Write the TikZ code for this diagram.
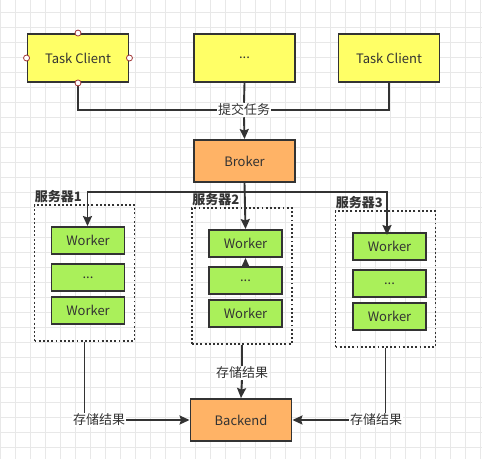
\documentclass[tikz,border=0pt]{standalone}
\usepackage{fontspec}
\setmainfont{Noto Sans CJK SC}
\usetikzlibrary{arrows.meta}
\definecolor{ink}{HTML}{333333}
\definecolor{clientfill}{HTML}{FFFF66}
\definecolor{brokerfill}{HTML}{FFB366}
\definecolor{workerfill}{HTML}{AAF05A}
\definecolor{gridcol}{HTML}{E8E8E8}
\definecolor{portcol}{HTML}{A33A3A}
\begin{document}
\begin{tikzpicture}[x=1pt, y=-1pt,
  box/.style={draw=ink, line width=1.9pt, inner sep=0pt, text=ink, font=\fontsize{13}{15}\selectfont},
  client/.style={box, fill=clientfill, minimum width=101pt, minimum height=48pt},
  brokerbox/.style={box, fill=brokerfill, minimum width=101pt, minimum height=42pt},
  workerbox/.style={box, fill=workerfill, minimum width=73pt, minimum height=27pt},
  server/.style={draw=ink, line width=1.9pt, dash pattern=on 1.9pt off 2.3pt, inner sep=0pt, minimum width=100pt, minimum height=136pt},
  srvlabel/.style={anchor=south west, inner sep=1pt, text=ink, font=\bfseries\fontsize{13}{15}\selectfont},
  lbl/.style={fill=white, inner sep=1pt, text=ink, font=\fontsize{13}{15}\selectfont},
  port/.style={circle, draw=portcol, fill=white, line width=0.8pt, minimum size=6pt, inner sep=0pt},
  line/.style={draw=ink, line width=1.9pt},
  arrow/.style={line, -{Stealth[length=10pt, width=9pt, inset=1.5pt]}}]
\useasboundingbox (0,0) rectangle (482,459);
\fill[white] (0,0) rectangle (482,459);
% background grid
\foreach \gx in {0,15,...,480} \draw[gridcol, line width=0.6pt] (\gx,0) -- (\gx,459);
\foreach \gy in {12,27,...,457} \draw[gridcol, line width=0.6pt] (0,\gy) -- (482,\gy);
% clients
\node[client] (tc1) at (78,58) {Task Client};
\node[client] (tcdots) at (244.5,58) {...};
\node[client] (tc2) at (389,58) {Task Client};
\node[brokerbox] (broker) at (244.5,161) {Broker};
% servers
\node[server] (srv1) at (84.5,273) {};
\node[server] (srv2) at (242,276) {};
\node[server] (srv3) at (385.5,279) {};
\node[srvlabel] (srv1lbl) at (srv1.north west) {服务器1};
\node[srvlabel] (srv2lbl) at (srv2.north west) {服务器2};
\node[srvlabel] (srv3lbl) at (srv3.north west) {服务器3};
% workers
\node[workerbox] (wk1a) at (88,240.5) {Worker};
\node[workerbox] (wk1dots) at (88,277.5) {...};
\node[workerbox] (wk1b) at (88,310.5) {Worker};
\node[workerbox] (wk2a) at (245.5,243.5) {Worker};
\node[workerbox] (wk2dots) at (245.5,280.5) {...};
\node[workerbox] (wk2b) at (245.5,313.5) {Worker};
\node[workerbox] (wk3a) at (389.5,246.5) {Worker};
\node[workerbox] (wk3dots) at (389.5,283.5) {...};
\node[workerbox] (wk3b) at (389.5,316.5) {Worker};
\node[brokerbox] (backend) at (241,420) {Backend};
% submit tasks
\node[lbl] (submit) at (244,110) {提交任务};
\draw[line] (tc1.south) |- (submit.west);
\draw[line] (tc2.south) |- (submit.east);
\draw[line] (tcdots.south) -- (submit.north);
\draw[arrow] (submit.south) -- (broker.north);
% dispatch
\coordinate (split) at (244,192);
\draw[arrow] (broker.south) -- (wk2a.north);
\draw[arrow] (split) -| ([xshift=-0.5pt]wk1a.north);
\draw[arrow] (split) -| ([xshift=-2.5pt, yshift=-3pt]wk3a.north);
\draw[arrow] (wk2dots.north) -- (wk2a.south);
% store results
\node[lbl] (store1) at (99,420) {存储结果};
\node[lbl] (store2) at (242,373) {存储结果};
\node[lbl] (store3) at (376,420) {存储结果};
\draw[line] (srv1.south) -- (srv1.south |- store1.north);
\draw[arrow] (store1.east) -- (backend.west);
\draw[line] (srv2.south) -- (store2.north);
\draw[arrow] (store2.south) -- (backend.north);
\draw[line] (srv3.south) -- (srv3.south |- store3.north);
\draw[arrow] (store3.west) -- (backend.east);
% ports
\node[port] (tc1n) at (tc1.north) {};
\node[port] (tc1s) at (tc1.south) {};
\node[port] (tc1w) at (tc1.west) {};
\node[port] (tc1e) at (tc1.east) {};
\end{tikzpicture}
\end{document}
